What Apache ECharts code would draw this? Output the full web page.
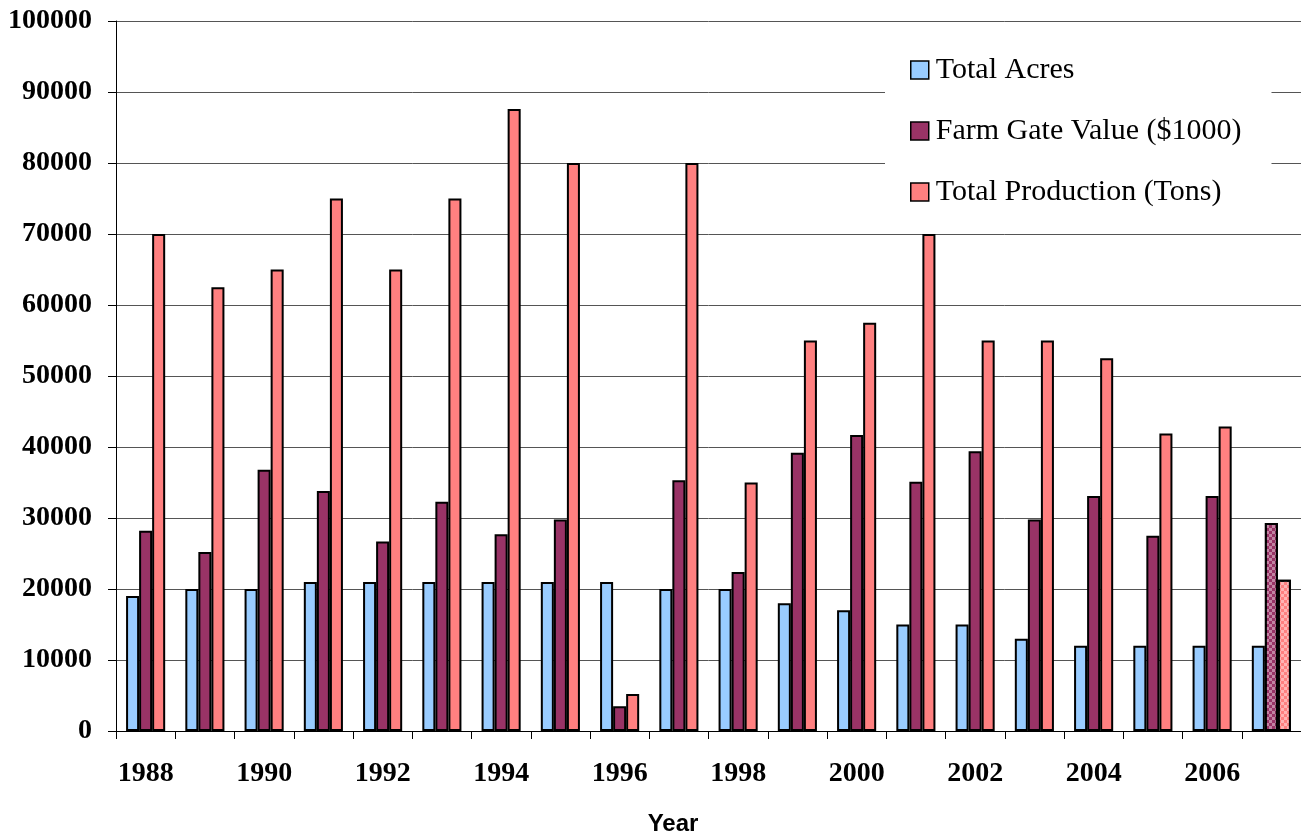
<!DOCTYPE html>
<html>
<head>
<meta charset="utf-8">
<script src="https://cdn.jsdelivr.net/npm/echarts@6/dist/echarts.min.js"></script>
<style>
  html, body { margin: 0; padding: 0; background: #fff; }
  #chart { width: 1301px; height: 835px; }
</style>
</head>
<body>
<div id="chart"></div>
<script>
// Yearly acreage, farm gate value and production
const years = ['1988', '1989', '1990', '1991', '1992', '1993', '1994', '1995', '1996', '1997',
               '1998', '1999', '2000', '2001', '2002', '2003', '2004', '2005', '2006', '2007'];
const totalAcres = [19000, 20000, 20000, 21000, 21000, 21000, 21000, 21000, 21000, 20000,
                    20000, 18000, 17000, 15000, 15000, 13000, 12000, 12000, 12000, 12000];
const farmGateValue = [28200, 25200, 36800, 33800, 26700, 32300, 27700, 29800, 3500, 35300,
                       22400, 39200, 41700, 35100, 39400, 29800, 33100, 27500, 33100, 29300];
const totalProduction = [70000, 62500, 65000, 75000, 65000, 75000, 87600, 80000, 5200, 80000,
                         35000, 55000, 57500, 70000, 55000, 55000, 52500, 41900, 42900, 21300];
const seriesNames = ['Total Acres', 'Farm Gate Value ($1000)', 'Total Production (Tons)'];
const estimatedYear = '2007';

const serif = '"Liberation Serif", "Times New Roman", serif';

// checkered fill marking the estimated year
const checker = {
  symbol: 'rect',
  symbolSize: 1,
  color: 'rgba(255,255,255,0.4)',
  dashArrayX: [[3, 3], [0, 3, 3, 0]],
  dashArrayY: [3, 0]
};

function barData(values, patterned) {
  return values.map((v, i) => {
    if (patterned && years[i] === estimatedYear) {
      return { value: v, itemStyle: { decal: checker } };
    }
    return v;
  });
}

const colors = ['#99CCFF', '#993366', '#FF8080'];
const valueSets = [totalAcres, farmGateValue, totalProduction];

const chart = echarts.init(document.getElementById('chart'), null, { renderer: 'canvas' });
chart.setOption({
  animation: false,
  backgroundColor: '#fff',
  grid: { left: 116, right: 0, top: 21, bottom: 104, containLabel: false },
  legend: {
    orient: 'vertical',
    left: 885,
    top: 32,
    backgroundColor: '#fff',
    padding: [23, 30, 18, 25],
    itemWidth: 18,
    itemHeight: 18,
    itemGap: 31,
    icon: 'rect',
    itemStyle: { borderColor: '#000', borderWidth: 1.5 },
    textStyle: { fontFamily: serif, fontSize: 30, color: '#000', lineHeight: 30, padding: [0, 0, 0, 2] },
    data: seriesNames
  },
  xAxis: {
    type: 'category',
    data: years,
    boundaryGap: true,
    axisLine: { lineStyle: { color: '#000', width: 1 } },
    axisTick: { show: true, length: 8, interval: 0, lineStyle: { color: '#000' } },
    axisLabel: {
      interval: 1,
      margin: 29,
      fontFamily: serif,
      fontWeight: 'bold',
      fontSize: 28,
      color: '#000'
    },
    splitLine: { show: false }
  },
  yAxis: {
    type: 'value',
    min: 0,
    max: 100000,
    interval: 10000,
    axisLine: { show: true, lineStyle: { color: '#000', width: 1 } },
    axisTick: { show: true, length: 8, lineStyle: { color: '#000' } },
    axisLabel: {
      margin: 24,
      fontFamily: serif,
      fontWeight: 'bold',
      fontSize: 28,
      color: '#000',
      formatter: v => String(v)
    },
    splitLine: { show: true, lineStyle: { color: '#555', width: 1 } }
  },
  graphic: [{
    type: 'text',
    x: 673,
    y: 824,
    style: {
      text: 'Year',
      fontFamily: '"Liberation Sans", Arial, sans-serif',
      fontWeight: 'bold',
      fontSize: 24,
      fill: '#000',
      align: 'center',
      verticalAlign: 'middle'
    }
  }],
  series: seriesNames.map((name, k) => ({
    name: name,
    type: 'bar',
    barGap: '0%',
    barCategoryGap: '34%',
    itemStyle: { color: colors[k], borderColor: '#000', borderWidth: 2 },
    data: barData(valueSets[k], k > 0)
  }))
});
</script>
</body>
</html>
